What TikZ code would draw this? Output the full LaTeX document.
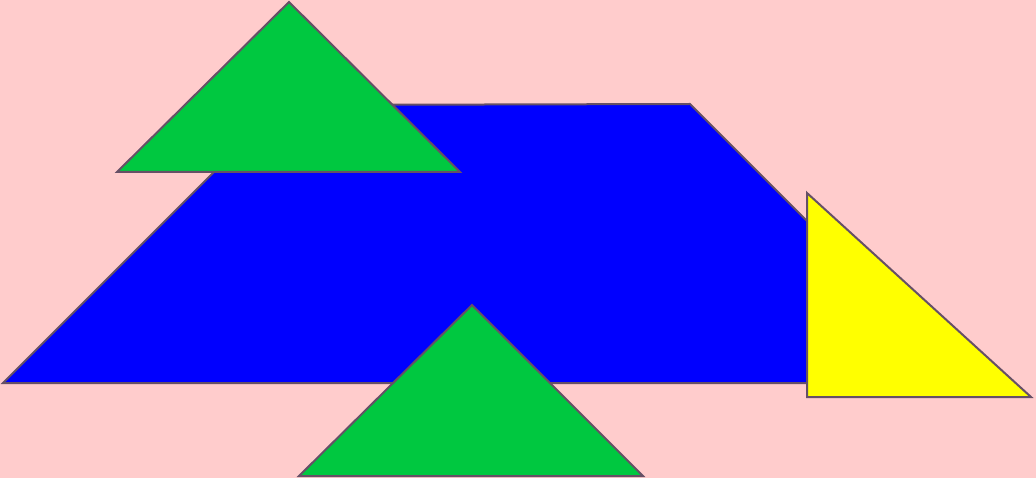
\documentclass[tikz,border=0pt]{standalone}
\begin{document}
\begin{tikzpicture}[x=1pt,y=-1pt]
\definecolor{bg}{RGB}{255,204,204}
\definecolor{edge}{RGB}{102,80,102}
\definecolor{grn}{RGB}{0,200,64}
\definecolor{ylw}{RGB}{255,255,0}
\definecolor{blu}{RGB}{0,0,255}
\tikzset{piece/.style={draw=edge,line width=2pt,line join=miter}}
\fill[bg] (0,0) rectangle (1036,478);
\useasboundingbox (0,0) rectangle (1036,478);
\filldraw[piece,fill=blu] (3,383) -- (281,105) -- (690,104) -- (969,383) -- cycle;
\filldraw[piece,fill=ylw] (807,193) -- (1031,397) -- (807,397) -- cycle;
\filldraw[piece,fill=grn] (289,2) -- (460,172) -- (117,172) -- cycle;
\filldraw[piece,fill=grn] (472,305) -- (643,476) -- (299,476) -- cycle;
\end{tikzpicture}
\end{document}
